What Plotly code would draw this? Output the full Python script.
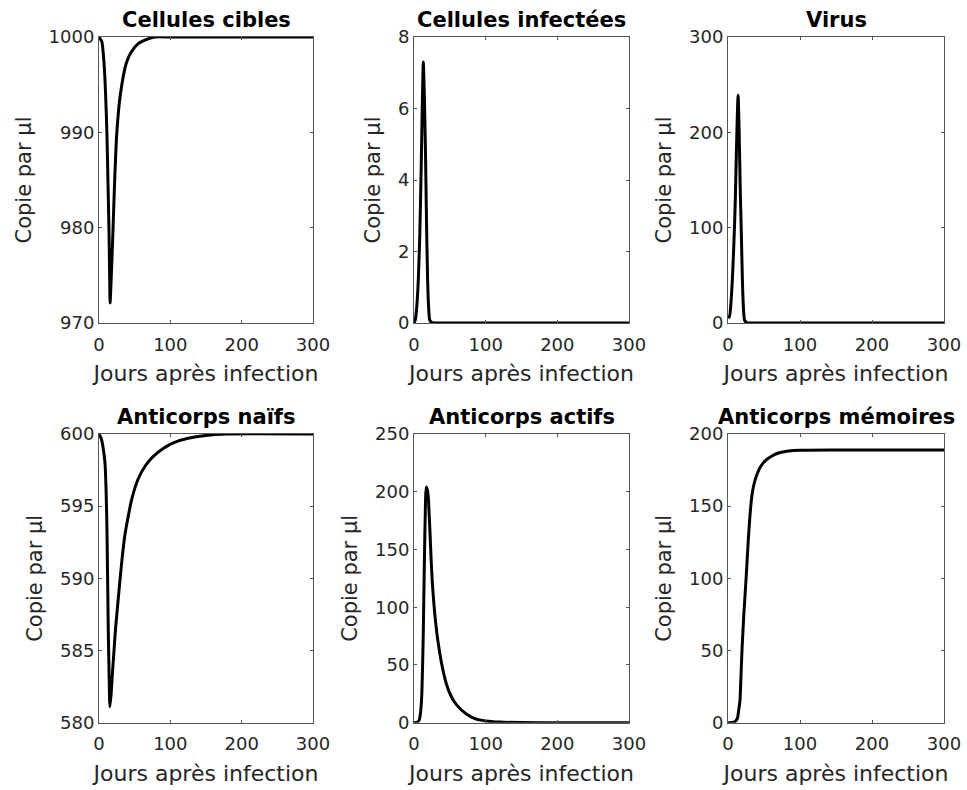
import plotly.graph_objects as go
from plotly.subplots import make_subplots

# Cellules cibles (copies/µl)
jours_cibles = [0, 4, 7, 9, 11, 12.5, 14, 15, 15.5, 17, 19.6, 22, 25, 30, 38, 45, 55, 65, 78, 100, 200, 300]
cellules_cibles = [1000, 999.5, 997.3, 994.5, 990.2, 985, 979.7, 974.5, 972.1, 974.5, 979.7, 985,
                   990, 994, 997.2, 998.4, 999.3, 999.7, 1000, 1000, 1000, 1000]

# Cellules infectées
jours_infectees = [0, 2, 4, 6, 8, 10, 11.5, 13, 14.5, 16, 17.5, 19, 20.5, 22, 25, 30, 100, 200, 300]
cellules_infectees = [0, 0.1, 0.5, 1.2, 2.4, 4.3, 6.0, 7.3, 6.3, 4.8, 2.8, 1.2, 0.4, 0.08, 0.01, 0, 0, 0, 0]

# Virus
jours_virus = [0, 2, 4, 6, 8, 10, 12, 14, 15.5, 17, 18.5, 20, 21.5, 23, 26, 30, 100, 200, 300]
virus = [8, 6, 20, 45, 80, 125, 190, 239, 200, 140, 95, 45, 15, 3, 0.3, 0, 0, 0, 0]

# Anticorps naïfs
jours_naifs = [0, 3, 5.6, 8.4, 10, 11.2, 13, 14.3, 15.3, 17, 18.5, 20.5, 23, 27, 31.6, 36, 41, 46,
               55, 65, 75, 90, 105, 125, 150, 180, 300]
anticorps_naifs = [600, 599.7, 599.1, 598, 596, 593.3, 586.4, 583, 581.1, 582, 583.2, 584.6, 586.4,
                   588.6, 591, 592.9, 594.3, 595.5, 596.9, 597.8, 598.4, 599, 599.4, 599.7, 599.9, 600, 600]

# Anticorps actifs
jours_actifs = [0, 4, 7, 9, 10.7, 12, 13, 14.5, 16, 17, 18.5, 20, 21.2, 22.3, 24, 25.5, 27, 29, 32,
                35, 38.6, 45, 52.5, 60, 73, 85, 100, 120, 150, 200, 300]
anticorps_actifs = [0, 0.3, 2, 8, 22, 50, 80, 140, 190, 204, 202, 195, 180, 165, 140, 122, 109, 94, 77,
                    64, 51, 34, 22, 15, 7.5, 3.5, 1.5, 0.5, 0.1, 0, 0]

# Anticorps mémoires
jours_memoires = [0, 5, 10, 13, 14.7, 16.7, 18, 19.4, 22, 25, 28, 30, 32, 34, 37, 41, 46, 53, 61, 70,
                  84, 100, 150, 300]
anticorps_memoires = [0, 0.1, 0.8, 3, 8, 16, 32, 50, 75, 99, 125, 140, 152, 160, 167, 173, 178, 182,
                      184.8, 186.8, 188.2, 188.8, 189, 189]

titres = ["Cellules cibles", "Cellules infectées", "Virus",
          "Anticorps naïfs", "Anticorps actifs", "Anticorps mémoires"]
series = [(jours_cibles, cellules_cibles), (jours_infectees, cellules_infectees), (jours_virus, virus),
          (jours_naifs, anticorps_naifs), (jours_actifs, anticorps_actifs), (jours_memoires, anticorps_memoires)]
plages_y = [[970, 1000], [0, 8], [0, 300], [580, 600], [0, 250], [0, 200]]
pas_y = [10, 2, 100, 5, 50, 50]

W, H = 967, 790
col_px = [(99, 313), (414, 629), (728, 944)]
row_px = [(37, 323), (434, 722.7)]

FONT = "DejaVu Sans"
TXT = "#262626"
AXE = "#555555"

fig = make_subplots(rows=2, cols=3)

for i, ((x, y), titre, plage, pas) in enumerate(zip(series, titres, plages_y, pas_y)):
    r, c = divmod(i, 3)
    fig.add_trace(go.Scatter(x=x, y=y, mode="lines",
                             line=dict(color="black", width=3, shape="spline", smoothing=0.6),
                             showlegend=False, hoverinfo="skip"), row=r + 1, col=c + 1)
    x0, x1 = col_px[c]
    y0, y1 = row_px[r]
    xd = [x0 / W, x1 / W]
    yd = [1 - y1 / H, 1 - y0 / H]
    fig.update_xaxes(domain=xd, range=[0, 300], tickvals=[0, 100, 200, 300],
                     title=dict(text="Jours après infection", font=dict(family=FONT, size=22, color=TXT),
                                standoff=12),
                     row=r + 1, col=c + 1)
    fig.update_yaxes(domain=yd, range=plage, dtick=pas, tick0=plage[0],
                     title=dict(text="Copie par µl", font=dict(family=FONT, size=21, color=TXT),
                                standoff=11),
                     row=r + 1, col=c + 1)
    fig.add_annotation(text="<b>" + titre + "</b>", x=(xd[0] + xd[1]) / 2, y=yd[1],
                       xref="paper", yref="paper", xanchor="center", yanchor="bottom",
                       yshift=3, showarrow=False, font=dict(family=FONT, size=21, color="black"))

fig.update_xaxes(showgrid=False, zeroline=False, showline=True, linecolor=AXE, linewidth=1,
                 mirror="allticks", ticks="inside", ticklen=3, tickcolor=AXE, automargin=False,
                 ticklabelstandoff=5, tickfont=dict(family=FONT, size=18, color=TXT))
fig.update_yaxes(showgrid=False, zeroline=False, showline=True, linecolor=AXE, linewidth=1,
                 mirror="allticks", ticks="inside", ticklen=3, tickcolor=AXE, automargin=False,
                 tickfont=dict(family=FONT, size=18, color=TXT))

fig.update_layout(template="none", width=W, height=H, margin=dict(l=0, r=0, t=0, b=0, autoexpand=False),
                  plot_bgcolor="white", paper_bgcolor="white")

fig.write_html("out.html")
